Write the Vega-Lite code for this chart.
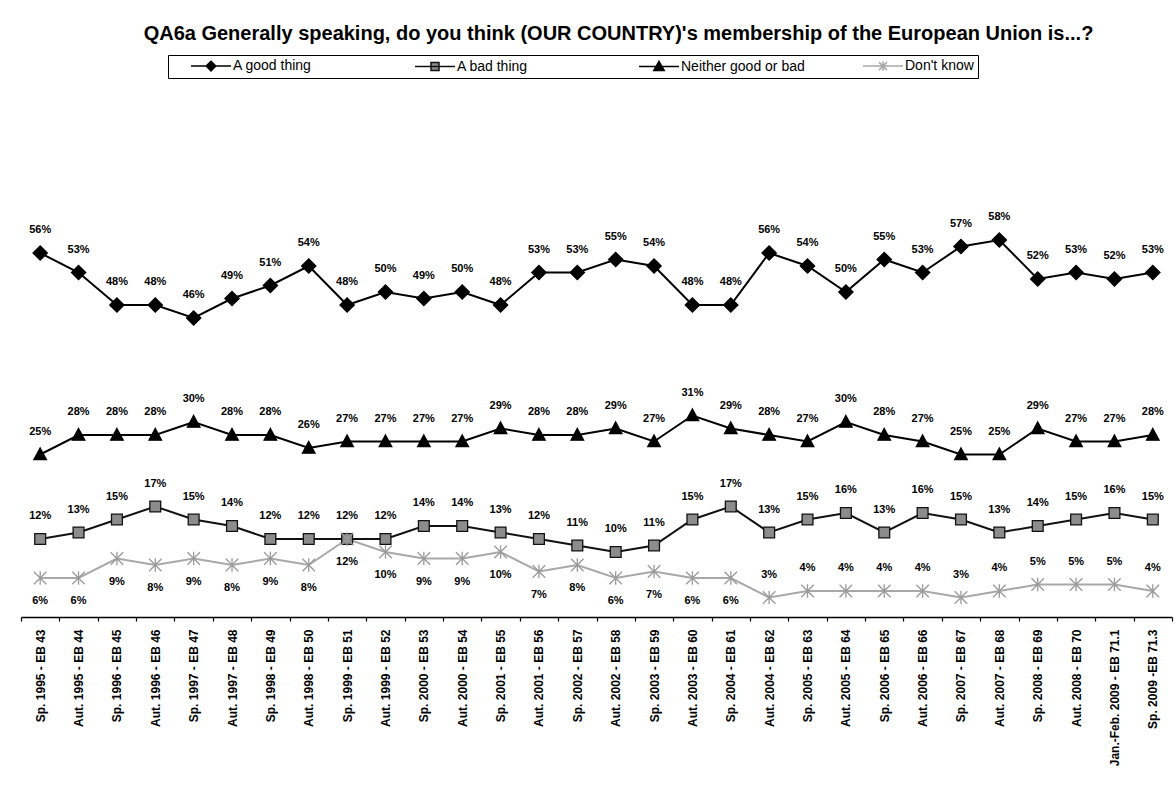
{
  "$schema": "https://vega.github.io/schema/vega-lite/v6.json",
  "autosize": "none",
  "width": 1151,
  "height": 520,
  "padding": {"left": 21, "top": 97, "right": 4, "bottom": 168},
  "background": "white",
  "config": {"view": {"stroke": null}},
  "title": {
    "text": "QA6a Generally speaking, do you think (OUR COUNTRY)'s membership of the European Union is...?",
    "font": "Liberation Sans", "fontSize": 20, "fontWeight": "bold", "color": "black",
    "anchor": "middle", "dx": 22, "offset": 11
  },
  "datasets": {
    "d": [
      {"period": "Sp. 1995 - EB 43", "series": "A good thing", "value": 56},
      {"period": "Aut. 1995 - EB 44", "series": "A good thing", "value": 53},
      {"period": "Sp. 1996 - EB 45", "series": "A good thing", "value": 48},
      {"period": "Aut. 1996 - EB 46", "series": "A good thing", "value": 48},
      {"period": "Sp. 1997 - EB 47", "series": "A good thing", "value": 46},
      {"period": "Aut. 1997 - EB 48", "series": "A good thing", "value": 49},
      {"period": "Sp. 1998 - EB 49", "series": "A good thing", "value": 51},
      {"period": "Aut. 1998 - EB 50", "series": "A good thing", "value": 54},
      {"period": "Sp. 1999 - EB 51", "series": "A good thing", "value": 48},
      {"period": "Aut. 1999 - EB 52", "series": "A good thing", "value": 50},
      {"period": "Sp. 2000 - EB 53", "series": "A good thing", "value": 49},
      {"period": "Aut. 2000 - EB 54", "series": "A good thing", "value": 50},
      {"period": "Sp. 2001 - EB 55", "series": "A good thing", "value": 48},
      {"period": "Aut. 2001 - EB 56", "series": "A good thing", "value": 53},
      {"period": "Sp. 2002 - EB 57", "series": "A good thing", "value": 53},
      {"period": "Aut. 2002 - EB 58", "series": "A good thing", "value": 55},
      {"period": "Sp. 2003 - EB 59", "series": "A good thing", "value": 54},
      {"period": "Aut. 2003 - EB 60", "series": "A good thing", "value": 48},
      {"period": "Sp. 2004 - EB 61", "series": "A good thing", "value": 48},
      {"period": "Aut. 2004 - EB 62", "series": "A good thing", "value": 56},
      {"period": "Sp. 2005 - EB 63", "series": "A good thing", "value": 54},
      {"period": "Aut. 2005 - EB 64", "series": "A good thing", "value": 50},
      {"period": "Sp. 2006 - EB 65", "series": "A good thing", "value": 55},
      {"period": "Aut. 2006 - EB 66", "series": "A good thing", "value": 53},
      {"period": "Sp. 2007 - EB 67", "series": "A good thing", "value": 57},
      {"period": "Aut. 2007 - EB 68", "series": "A good thing", "value": 58},
      {"period": "Sp. 2008 - EB 69", "series": "A good thing", "value": 52},
      {"period": "Aut. 2008 - EB 70", "series": "A good thing", "value": 53},
      {"period": "Jan.-Feb. 2009 - EB 71.1", "series": "A good thing", "value": 52},
      {"period": "Sp. 2009 -EB 71.3", "series": "A good thing", "value": 53},

      {"period": "Sp. 1995 - EB 43", "series": "Neither good or bad", "value": 25},
      {"period": "Aut. 1995 - EB 44", "series": "Neither good or bad", "value": 28},
      {"period": "Sp. 1996 - EB 45", "series": "Neither good or bad", "value": 28},
      {"period": "Aut. 1996 - EB 46", "series": "Neither good or bad", "value": 28},
      {"period": "Sp. 1997 - EB 47", "series": "Neither good or bad", "value": 30},
      {"period": "Aut. 1997 - EB 48", "series": "Neither good or bad", "value": 28},
      {"period": "Sp. 1998 - EB 49", "series": "Neither good or bad", "value": 28},
      {"period": "Aut. 1998 - EB 50", "series": "Neither good or bad", "value": 26},
      {"period": "Sp. 1999 - EB 51", "series": "Neither good or bad", "value": 27},
      {"period": "Aut. 1999 - EB 52", "series": "Neither good or bad", "value": 27},
      {"period": "Sp. 2000 - EB 53", "series": "Neither good or bad", "value": 27},
      {"period": "Aut. 2000 - EB 54", "series": "Neither good or bad", "value": 27},
      {"period": "Sp. 2001 - EB 55", "series": "Neither good or bad", "value": 29},
      {"period": "Aut. 2001 - EB 56", "series": "Neither good or bad", "value": 28},
      {"period": "Sp. 2002 - EB 57", "series": "Neither good or bad", "value": 28},
      {"period": "Aut. 2002 - EB 58", "series": "Neither good or bad", "value": 29},
      {"period": "Sp. 2003 - EB 59", "series": "Neither good or bad", "value": 27},
      {"period": "Aut. 2003 - EB 60", "series": "Neither good or bad", "value": 31},
      {"period": "Sp. 2004 - EB 61", "series": "Neither good or bad", "value": 29},
      {"period": "Aut. 2004 - EB 62", "series": "Neither good or bad", "value": 28},
      {"period": "Sp. 2005 - EB 63", "series": "Neither good or bad", "value": 27},
      {"period": "Aut. 2005 - EB 64", "series": "Neither good or bad", "value": 30},
      {"period": "Sp. 2006 - EB 65", "series": "Neither good or bad", "value": 28},
      {"period": "Aut. 2006 - EB 66", "series": "Neither good or bad", "value": 27},
      {"period": "Sp. 2007 - EB 67", "series": "Neither good or bad", "value": 25},
      {"period": "Aut. 2007 - EB 68", "series": "Neither good or bad", "value": 25},
      {"period": "Sp. 2008 - EB 69", "series": "Neither good or bad", "value": 29},
      {"period": "Aut. 2008 - EB 70", "series": "Neither good or bad", "value": 27},
      {"period": "Jan.-Feb. 2009 - EB 71.1", "series": "Neither good or bad", "value": 27},
      {"period": "Sp. 2009 -EB 71.3", "series": "Neither good or bad", "value": 28},

      {"period": "Sp. 1995 - EB 43", "series": "A bad thing", "value": 12},
      {"period": "Aut. 1995 - EB 44", "series": "A bad thing", "value": 13},
      {"period": "Sp. 1996 - EB 45", "series": "A bad thing", "value": 15},
      {"period": "Aut. 1996 - EB 46", "series": "A bad thing", "value": 17},
      {"period": "Sp. 1997 - EB 47", "series": "A bad thing", "value": 15},
      {"period": "Aut. 1997 - EB 48", "series": "A bad thing", "value": 14},
      {"period": "Sp. 1998 - EB 49", "series": "A bad thing", "value": 12},
      {"period": "Aut. 1998 - EB 50", "series": "A bad thing", "value": 12},
      {"period": "Sp. 1999 - EB 51", "series": "A bad thing", "value": 12},
      {"period": "Aut. 1999 - EB 52", "series": "A bad thing", "value": 12},
      {"period": "Sp. 2000 - EB 53", "series": "A bad thing", "value": 14},
      {"period": "Aut. 2000 - EB 54", "series": "A bad thing", "value": 14},
      {"period": "Sp. 2001 - EB 55", "series": "A bad thing", "value": 13},
      {"period": "Aut. 2001 - EB 56", "series": "A bad thing", "value": 12},
      {"period": "Sp. 2002 - EB 57", "series": "A bad thing", "value": 11},
      {"period": "Aut. 2002 - EB 58", "series": "A bad thing", "value": 10},
      {"period": "Sp. 2003 - EB 59", "series": "A bad thing", "value": 11},
      {"period": "Aut. 2003 - EB 60", "series": "A bad thing", "value": 15},
      {"period": "Sp. 2004 - EB 61", "series": "A bad thing", "value": 17},
      {"period": "Aut. 2004 - EB 62", "series": "A bad thing", "value": 13},
      {"period": "Sp. 2005 - EB 63", "series": "A bad thing", "value": 15},
      {"period": "Aut. 2005 - EB 64", "series": "A bad thing", "value": 16},
      {"period": "Sp. 2006 - EB 65", "series": "A bad thing", "value": 13},
      {"period": "Aut. 2006 - EB 66", "series": "A bad thing", "value": 16},
      {"period": "Sp. 2007 - EB 67", "series": "A bad thing", "value": 15},
      {"period": "Aut. 2007 - EB 68", "series": "A bad thing", "value": 13},
      {"period": "Sp. 2008 - EB 69", "series": "A bad thing", "value": 14},
      {"period": "Aut. 2008 - EB 70", "series": "A bad thing", "value": 15},
      {"period": "Jan.-Feb. 2009 - EB 71.1", "series": "A bad thing", "value": 16},
      {"period": "Sp. 2009 -EB 71.3", "series": "A bad thing", "value": 15},

      {"period": "Sp. 1995 - EB 43", "series": "Don't know", "value": 6},
      {"period": "Aut. 1995 - EB 44", "series": "Don't know", "value": 6},
      {"period": "Sp. 1996 - EB 45", "series": "Don't know", "value": 9},
      {"period": "Aut. 1996 - EB 46", "series": "Don't know", "value": 8},
      {"period": "Sp. 1997 - EB 47", "series": "Don't know", "value": 9},
      {"period": "Aut. 1997 - EB 48", "series": "Don't know", "value": 8},
      {"period": "Sp. 1998 - EB 49", "series": "Don't know", "value": 9},
      {"period": "Aut. 1998 - EB 50", "series": "Don't know", "value": 8},
      {"period": "Sp. 1999 - EB 51", "series": "Don't know", "value": 12},
      {"period": "Aut. 1999 - EB 52", "series": "Don't know", "value": 10},
      {"period": "Sp. 2000 - EB 53", "series": "Don't know", "value": 9},
      {"period": "Aut. 2000 - EB 54", "series": "Don't know", "value": 9},
      {"period": "Sp. 2001 - EB 55", "series": "Don't know", "value": 10},
      {"period": "Aut. 2001 - EB 56", "series": "Don't know", "value": 7},
      {"period": "Sp. 2002 - EB 57", "series": "Don't know", "value": 8},
      {"period": "Aut. 2002 - EB 58", "series": "Don't know", "value": 6},
      {"period": "Sp. 2003 - EB 59", "series": "Don't know", "value": 7},
      {"period": "Aut. 2003 - EB 60", "series": "Don't know", "value": 6},
      {"period": "Sp. 2004 - EB 61", "series": "Don't know", "value": 6},
      {"period": "Aut. 2004 - EB 62", "series": "Don't know", "value": 3},
      {"period": "Sp. 2005 - EB 63", "series": "Don't know", "value": 4},
      {"period": "Aut. 2005 - EB 64", "series": "Don't know", "value": 4},
      {"period": "Sp. 2006 - EB 65", "series": "Don't know", "value": 4},
      {"period": "Aut. 2006 - EB 66", "series": "Don't know", "value": 4},
      {"period": "Sp. 2007 - EB 67", "series": "Don't know", "value": 3},
      {"period": "Aut. 2007 - EB 68", "series": "Don't know", "value": 4},
      {"period": "Sp. 2008 - EB 69", "series": "Don't know", "value": 5},
      {"period": "Aut. 2008 - EB 70", "series": "Don't know", "value": 5},
      {"period": "Jan.-Feb. 2009 - EB 71.1", "series": "Don't know", "value": 5},
      {"period": "Sp. 2009 -EB 71.3", "series": "Don't know", "value": 4}
    ]
  },
  "data": {"name": "d"},
  "encoding": {
    "x": {
      "field": "period", "type": "ordinal", "sort": null,
      "scale": {"type": "band", "paddingInner": 0, "paddingOuter": 0},
      "axis": {
        "title": null, "labelAngle": -90, "labelFont": "Liberation Sans", "labelFontSize": 12,
        "labelFontWeight": "bold", "labelColor": "black", "labelPadding": 8, "labelLimit": 300,
        "tickBand": "extent", "tickSize": 4, "tickColor": "black", "tickWidth": 1.2,
        "domainColor": "black", "domainWidth": 1.5, "grid": false
      }
    },
    "y": {"field": "value", "type": "quantitative", "scale": {"domain": [0, 80]}, "axis": null}
  },
  "layer": [
    {
      "mark": {"type": "line", "strokeWidth": 2},
      "encoding": {
        "color": {
          "field": "series", "type": "nominal",
          "scale": {"domain": ["A good thing", "A bad thing", "Neither good or bad", "Don't know"], "range": ["#000000", "#111111", "#000000", "#a8a8a8"]},
          "legend": {
            "orient": "none", "legendX": 147, "legendY": -42,
            "direction": "horizontal", "columns": 4, "title": null,
            "gridAlign": "all", "columnPadding": 39,
            "symbolSize": 64, "symbolOffset": 32, "labelOffset": 15,
            "labelFont": "Liberation Sans", "labelFontSize": 14, "labelColor": "black", "labelLimit": 400,
            "labelExpr": "datum.value === \"Don't know\" ? datum.label + '\u00a0\u00a0\u00a0\u00a0\u00a0\u00a0\u00a0\u00a0\u00a0\u00a0\u00a0\u00a0\u00a0\u00a0\u00a0' : datum.label",
            "padding": 4, "strokeColor": "black",
            "encode": {
              "symbols": {
                "update": {
                  "shape": {"signal": "datum.value === 'A good thing' ? 'M-5,0L5,0M0,-1.2L1.2,0L0,1.2L-1.2,0Z' : datum.value === 'A bad thing' ? 'M-5,0L5,0M-1,-1L1,-1L1,1L-1,1Z' : datum.value === 'Neither good or bad' ? 'M-5,0L5,0M0,-1.3L1.3,1L-1.3,1Z' : 'M-5,0L5,0M-1,-1L1,1M-1,1L1,-1M0,-1.2L0,1.2'"},
                  "fill": {"signal": "datum.value === 'A bad thing' ? '#8c8c8c' : (datum.value === 'A good thing' || datum.value === 'Neither good or bad') ? '#000000' : 'transparent'"},
                  "strokeWidth": {"value": 1.5},
                  "opacity": {"value": 1}
                }
              }
            }
          }
        }
      }
    },
    {
      "mark": {"type": "point", "filled": true, "opacity": 1, "strokeWidth": 1.3, "size": 130},
      "encoding": {
        "shape": {
          "field": "series", "type": "nominal",
          "scale": {
            "domain": ["Don't know", "A good thing", "A bad thing", "Neither good or bad"],
            "range": [
              "M-1.1,-1.1L1.1,1.1M-1.1,1.1L1.1,-1.1M0,-1.2L0,1.2",
              "M0,-1.25L1.25,0L0,1.25L-1.25,0Z",
              "M-0.95,-0.95L0.95,-0.95L0.95,0.95L-0.95,0.95Z",
              "M0,-1.15L1.1,0.9L-1.1,0.9Z"
            ]
          },
          "legend": null
        },
        "fill": {
          "field": "series", "type": "nominal",
          "scale": {"domain": ["Don't know", "A good thing", "A bad thing", "Neither good or bad"], "range": ["transparent", "#000000", "#8c8c8c", "#000000"]},
          "legend": null
        },
        "stroke": {
          "field": "series", "type": "nominal",
          "scale": {"domain": ["Don't know", "A good thing", "A bad thing", "Neither good or bad"], "range": ["#9a9a9a", "#000000", "#111111", "#000000"]},
          "legend": null
        }
      }
    },
    {
      "transform": [{"filter": "!(datum.series === \"Don't know\" && datum.value >= 6)"}],
      "mark": {"type": "text", "dy": -23, "baseline": "middle", "align": "center", "font": "Liberation Sans", "fontSize": 11, "fontWeight": "bold", "color": "#000000", "text": {"expr": "datum.value + '%'"}},
      "encoding": {}
    },
    {
      "transform": [{"filter": "datum.series === \"Don't know\" && datum.value >= 6"}],
      "mark": {"type": "text", "dy": 23, "baseline": "middle", "align": "center", "font": "Liberation Sans", "fontSize": 11, "fontWeight": "bold", "color": "#000000", "text": {"expr": "datum.value + '%'"}},
      "encoding": {}
    }
  ]
}
